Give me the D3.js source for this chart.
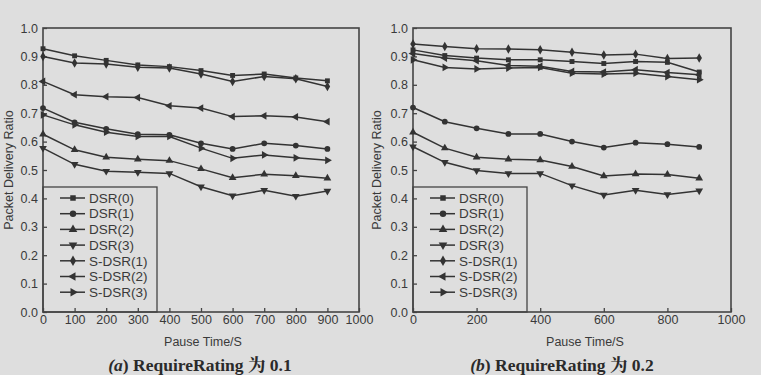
<!DOCTYPE html>
<html>
<head>
<meta charset="utf-8">
<script src="https://cdn.jsdelivr.net/npm/d3@7"></script>
<style>
  body { margin: 0; background: #dedede; }
  svg { display: block; }
  text { font-family: Arial, "Liberation Sans", sans-serif; fill: #3a3a3a; }
  .caption { font-family: "Liberation Serif", "Noto Serif CJK SC", "Noto Sans CJK SC", serif; font-weight: bold; fill: #2a2a2a; }
</style>
</head>
<body>
<svg width="761" height="375"></svg>
<script>
const pauseTime = [0, 100, 200, 300, 400, 500, 600, 700, 800, 900];
const seriesNames = ['DSR(0)', 'DSR(1)', 'DSR(2)', 'DSR(3)', 'S-DSR(1)', 'S-DSR(2)', 'S-DSR(3)'];
const yTicks = [0, 0.1, 0.2, 0.3, 0.4, 0.5, 0.6, 0.7, 0.8, 0.9, 1.0];
const xTicksA = [0, 100, 200, 300, 400, 500, 600, 700, 800, 900, 1000];
const xTicksB = [0, 200, 400, 600, 800, 1000];
const captions = ['RequireRating 为 0.1', 'RequireRating 为 0.2'];
const captionTags = ['(a)', '(b)'];

// (a) RequireRating 0.1
const dsr0A = [0.927, 0.902, 0.886, 0.870, 0.864, 0.850, 0.833, 0.838, 0.824, 0.814];
const dsr1A = [0.718, 0.668, 0.645, 0.626, 0.624, 0.594, 0.574, 0.594, 0.586, 0.574];
const dsr2A = [0.626, 0.571, 0.545, 0.538, 0.533, 0.504, 0.473, 0.485, 0.480, 0.471];
const dsr3A = [0.577, 0.520, 0.496, 0.492, 0.488, 0.441, 0.409, 0.429, 0.408, 0.426];
const sdsr1A = [0.900, 0.877, 0.873, 0.862, 0.859, 0.838, 0.812, 0.829, 0.821, 0.794];
const sdsr2A = [0.812, 0.765, 0.758, 0.755, 0.726, 0.718, 0.688, 0.691, 0.687, 0.670];
const sdsr3A = [0.694, 0.659, 0.633, 0.618, 0.618, 0.577, 0.541, 0.553, 0.543, 0.534];

// (b) RequireRating 0.2
const dsr0B = [0.923, 0.903, 0.894, 0.888, 0.888, 0.882, 0.875, 0.882, 0.879, 0.845];
const dsr1B = [0.720, 0.670, 0.647, 0.627, 0.627, 0.600, 0.579, 0.596, 0.591, 0.581];
const dsr2B = [0.633, 0.577, 0.545, 0.538, 0.535, 0.512, 0.479, 0.486, 0.484, 0.471];
const dsr3B = [0.582, 0.527, 0.498, 0.488, 0.488, 0.445, 0.412, 0.429, 0.414, 0.427];
const sdsr1B = [0.944, 0.935, 0.927, 0.926, 0.923, 0.915, 0.905, 0.908, 0.893, 0.894];
const sdsr2B = [0.910, 0.894, 0.885, 0.868, 0.865, 0.847, 0.845, 0.853, 0.843, 0.835];
const sdsr3B = [0.888, 0.861, 0.856, 0.859, 0.861, 0.841, 0.838, 0.841, 0.829, 0.818];

const panels = [
  { left: 43, right: 359, xTicks: xTicksA, series: [dsr0A, dsr1A, dsr2A, dsr3A, sdsr1A, sdsr2A, sdsr3A],
    yLabelX: 9, xLabelX: 203, captionX: 200 },
  { left: 413, right: 731, xTicks: xTicksB, series: [dsr0B, dsr1B, dsr2B, dsr3B, sdsr1B, sdsr2B, sdsr3B],
    yLabelX: 377, xLabelX: 585, captionX: 562 }
];

// marker shapes: square, circle, up, down, diamond, left, right
const markers = [
  { type: d3.symbolSquare, rot: 0, size: 24 },
  { type: d3.symbolCircle, rot: 0, size: 26 },
  { type: d3.symbolTriangle, rot: 0, size: 26 },
  { type: d3.symbolTriangle, rot: 180, size: 26 },
  { type: d3.symbolDiamond, rot: 0, size: 26 },
  { type: d3.symbolTriangle, rot: -90, size: 26 },
  { type: d3.symbolTriangle, rot: 90, size: 26 }
];

const ink = '#333';
const svg = d3.select('svg');
const plotTop = 28, plotBottom = 312;

panels.forEach((p, pi) => {
  const x = d3.scaleLinear().domain([0, 1000]).range([p.left, p.right]);
  const y = d3.scaleLinear().domain([0, 1]).range([plotBottom, plotTop]);
  const g = svg.append('g');

  // frame
  g.append('rect')
    .attr('x', x(0)).attr('y', y(1))
    .attr('width', x(1000) - x(0)).attr('height', y(0) - y(1))
    .attr('fill', 'none').attr('stroke', '#444').attr('stroke-width', 1.6);

  // axes with inward ticks
  const yAxis = g.append('g')
    .attr('transform', `translate(${x(0)},0)`)
    .call(d3.axisLeft(y).tickValues(yTicks).tickFormat(d3.format('.1f')).tickSizeInner(-4).tickSizeOuter(0).tickPadding(5));
  yAxis.select('.domain').remove();
  yAxis.selectAll('line').attr('stroke', '#444').attr('stroke-width', 1.3);
  yAxis.selectAll('text').attr('font-size', 12.5).attr('fill', '#3a3a3a');

  const xAxis = g.append('g')
    .attr('transform', `translate(0,${y(0)})`)
    .call(d3.axisBottom(x).tickValues(p.xTicks).tickFormat(d3.format('d')).tickSizeInner(-4).tickSizeOuter(0).tickPadding(3));
  xAxis.select('.domain').remove();
  xAxis.selectAll('line').attr('stroke', '#444').attr('stroke-width', 1.3);
  xAxis.selectAll('text').attr('font-size', 12.5).attr('fill', '#3a3a3a');

  // axis titles
  g.append('text')
    .attr('transform', `translate(${p.yLabelX},${(y(0) + y(1)) / 2}) rotate(-90)`)
    .attr('text-anchor', 'middle').attr('dy', '0.35em')
    .attr('font-size', 12.5)
    .text('Packet Delivery Ratio');

  g.append('text')
    .attr('x', p.xLabelX).attr('y', 346)
    .attr('text-anchor', 'middle')
    .attr('font-size', 12.5)
    .text('Pause Time/S');

  const cap = g.append('text')
    .attr('class', 'caption')
    .attr('x', p.captionX).attr('y', 371)
    .attr('text-anchor', 'middle')
    .attr('font-size', 17.5);
  cap.append('tspan').attr('font-style', 'italic').text(captionTags[pi].slice(0, 2));
  cap.append('tspan').text(captionTags[pi].slice(2) + ' ' + captions[pi]);

  // legend box (drawn under lines)
  const lgX = x(0), lgY = 187;
  g.append('rect')
    .attr('x', lgX).attr('y', lgY)
    .attr('width', 114).attr('height', y(0) - lgY)
    .attr('fill', 'none').attr('stroke', '#444').attr('stroke-width', 1.3);

  // series
  const line = d3.line().x((d, i) => x(pauseTime[i])).y(d => y(d));
  p.series.forEach((vals, si) => {
    g.append('path')
      .datum(vals)
      .attr('d', line)
      .attr('fill', 'none')
      .attr('stroke', ink)
      .attr('stroke-width', 1.5);

    const m = markers[si];
    g.append('g').selectAll('path')
      .data(vals)
      .join('path')
      .attr('d', d3.symbol().type(m.type).size(m.size))
      .attr('transform', (d, i) => `translate(${x(pauseTime[i])},${y(d)}) rotate(${m.rot})`)
      .attr('fill', ink);
  });

  // legend entries
  const items = g.append('g').selectAll('g')
    .data(seriesNames)
    .join('g')
    .attr('transform', (d, i) => `translate(${lgX},${lgY + 11 + i * 15.7})`);

  items.append('line')
    .attr('x1', 17).attr('x2', 42)
    .attr('stroke', ink).attr('stroke-width', 1.5);
  items.append('path')
    .attr('d', (d, i) => d3.symbol().type(markers[i].type).size(markers[i].size + 6)())
    .attr('transform', (d, i) => `translate(30,0) rotate(${markers[i].rot})`)
    .attr('fill', ink);
  items.append('text')
    .attr('x', 46).attr('dy', '0.35em')
    .attr('font-size', 13.5)
    .text(d => d);
});
</script>
</body>
</html>
